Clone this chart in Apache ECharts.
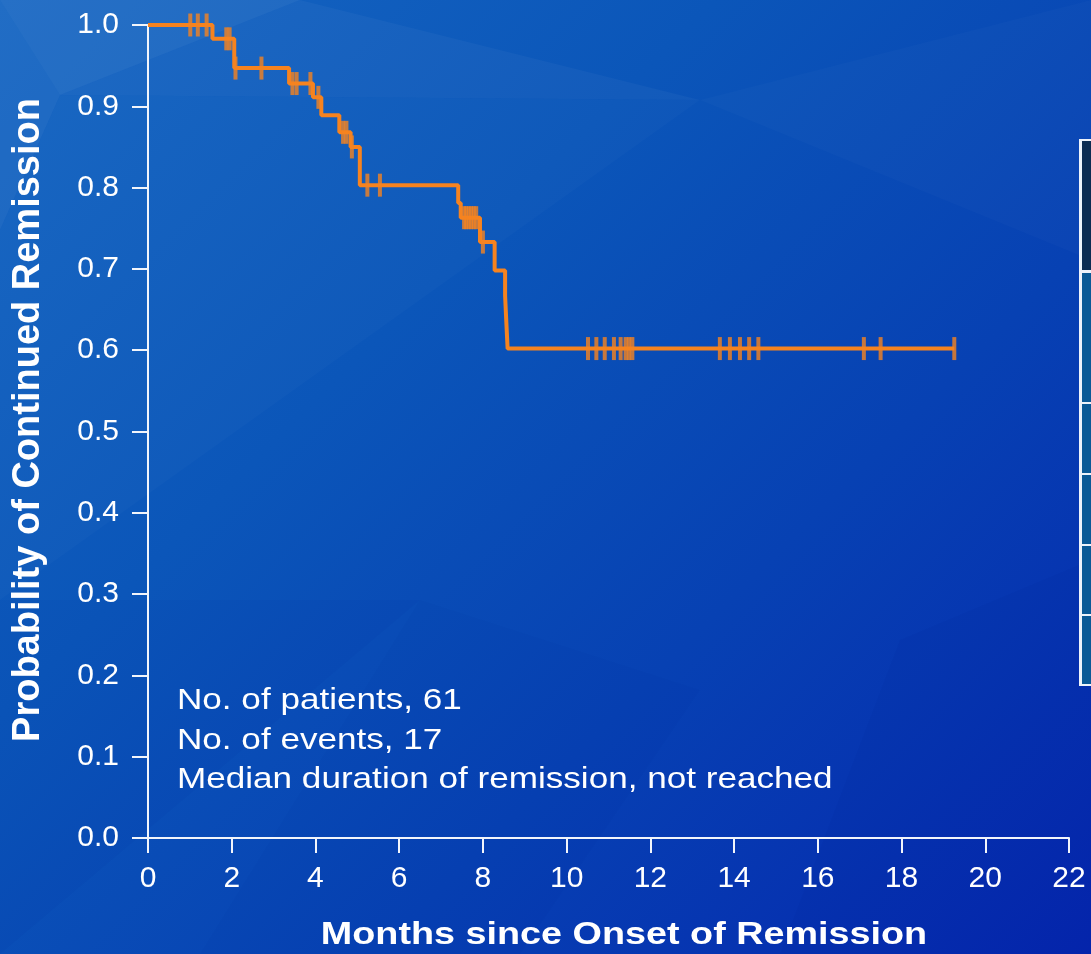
<!DOCTYPE html>
<html>
<head>
<meta charset="utf-8">
<script src="https://cdn.jsdelivr.net/npm/echarts@6/dist/echarts.min.js"></script>
<style>
html,body{margin:0;padding:0;}
#chart{width:1091px;height:954px;background:linear-gradient(135deg,#1666c2 0%,#0b56b9 35%,#0741b3 65%,#0526ae 100%);}
</style>
</head>
<body>
<div id="chart"></div>
<script>
// Kaplan-Meier step curve (months, probability)
const kmTimes = [0, 1.54, 2.06, 3.37, 3.94, 4.14, 4.57, 4.84, 5.06, 7.41, 7.47, 7.93, 8.28, 8.53, 8.56, 8.59, 19.26];
const kmSurv  = [1.0, 0.983, 0.947, 0.928, 0.911, 0.889, 0.868, 0.850, 0.803, 0.781, 0.763, 0.733, 0.698, 0.667, 0.634, 0.602, 0.602];
// Censored observations (months)
const censorTimes = [1.01, 1.19, 1.40, 1.87, 1.95, 2.09, 2.71, 3.45, 3.55, 3.88, 4.07, 4.66, 4.74, 4.87, 5.24, 5.54,
  7.55, 7.6, 7.66, 7.72, 7.78, 7.84, 8.0,
  10.51, 10.71, 10.91, 11.13, 11.29, 11.41, 11.49, 11.57,
  13.66, 13.9, 14.14, 14.36, 14.58, 17.1, 17.5, 19.26];
const xTicks = [0,2,4,6,8,10,12,14,16,18,20,22];
const yTicks = [0.0,0.1,0.2,0.3,0.4,0.5,0.6,0.7,0.8,0.9,1.0];
const notes = ['No. of patients, 61', 'No. of events, 17', 'Median duration of remission, not reached'];
const xTitle = 'Months since Onset of Remission';
const yTitle = 'Probability of Continued Remission';

function survAt(t){
  let s = kmSurv[0];
  for (let i = 0; i < kmTimes.length; i++){ if (kmTimes[i] <= t) s = kmSurv[i]; }
  return s;
}
const stepData = kmTimes.map((t,i)=>[t, kmSurv[i]]);
const censorData = censorTimes.map(t=>[t, survAt(t)]);

const chart = echarts.init(document.getElementById('chart'), null, {renderer:'canvas'});
const white = '#f2f5fb';
const orange = '#f6831f';
const font = '"Liberation Sans", Arial, sans-serif';

const facets = [
  {pts:[[0,0],[300,0],[60,95]], o:0.07},
  {pts:[[0,0],[60,95],[0,230]], o:0.05},
  {pts:[[60,95],[300,0],[700,100]], o:0.035},
  {pts:[[0,230],[60,95],[700,100],[0,600]], o:0.02},
  {pts:[[700,100],[1091,0],[1091,260]], o:0.02},
  {pts:[[0,600],[420,600],[0,954]], o:-0.03},
  {pts:[[900,640],[1091,560],[1091,954],[780,954]], o:-0.035},
  {pts:[[420,600],[700,690],[520,954],[200,954]], o:-0.02}
];
const graphics = [];
facets.forEach(f=>{
  graphics.push({type:'polygon', z:-10, silent:true, shape:{points:f.pts},
    style:{fill: f.o>0 ? 'rgba(255,255,255,'+f.o+')' : 'rgba(0,10,120,'+(-f.o)+')'}});
});
// partial table at right edge
const cells = [[141,270,'#0c2c52'],[273,402,'#0b5a96'],[404,473,'#0b5a96'],[475,544,'#0b5a96'],[546,614,'#0b5a96'],[616,684,'#0b5a96']];
graphics.push({type:'rect', shape:{x:1079,y:139,width:20,height:547}, style:{fill:'#eef3fa'}});
cells.forEach(c=>{
  graphics.push({type:'rect', shape:{x:1082,y:c[0],width:20,height:c[1]-c[0]}, style:{fill:c[2]}});
});
notes.forEach((t,i)=>{
  graphics.push({type:'text', x:177, y:701+i*39.5, scaleX:1.17, style:{text:t, fill:'#ffffff', font:'30px '+font, textVerticalAlign:'middle', textAlign:'left'}});
});
graphics.push({type:'text', x:624, y:935, scaleX:1.18, style:{text:xTitle, fill:'#ffffff', font:'bold 32px '+font, textAlign:'center', textVerticalAlign:'middle'}});
graphics.push({type:'text', x:29, y:420, rotation:Math.PI/2, style:{text:yTitle, fill:'#ffffff', font:'bold 38px '+font, textAlign:'center', textVerticalAlign:'middle'}});

chart.setOption({
  animation:false,
  backgroundColor:'transparent',
  grid:{left:148, right:22, top:25, bottom:116, containLabel:false},
  xAxis:{type:'value', min:0, max:22, interval:2,
    axisLine:{lineStyle:{color:white, width:2}},
    axisTick:{show:true, length:15, lineStyle:{color:white, width:2}},
    axisLabel:{color:'#ffffff', fontSize:30, fontFamily:font, margin:26,
      formatter:v=> xTicks.indexOf(v)>=0 ? String(v) : ''},
    splitLine:{show:false}},
  yAxis:{type:'value', min:0, max:1, interval:0.1,
    axisLine:{show:true, lineStyle:{color:white, width:2}},
    axisTick:{show:true, length:16, lineStyle:{color:white, width:2}},
    axisLabel:{color:'#ffffff', fontSize:30, fontFamily:font, margin:29,
      formatter:v=>{ const k = yTicks.find(y=>Math.abs(y-v)<1e-6); return k===undefined ? '' : k.toFixed(1); }},
    splitLine:{show:false}},
  graphic: graphics,
  series:[
    {type:'line', step:'end', data:stepData, symbol:'none', z:5,
      lineStyle:{color:orange, width:4}},
    {type:'scatter', data:censorData, symbol:'rect', symbolSize:[4,23], z:6,
      itemStyle:{color:orange}}
  ]
});
</script>
</body>
</html>
